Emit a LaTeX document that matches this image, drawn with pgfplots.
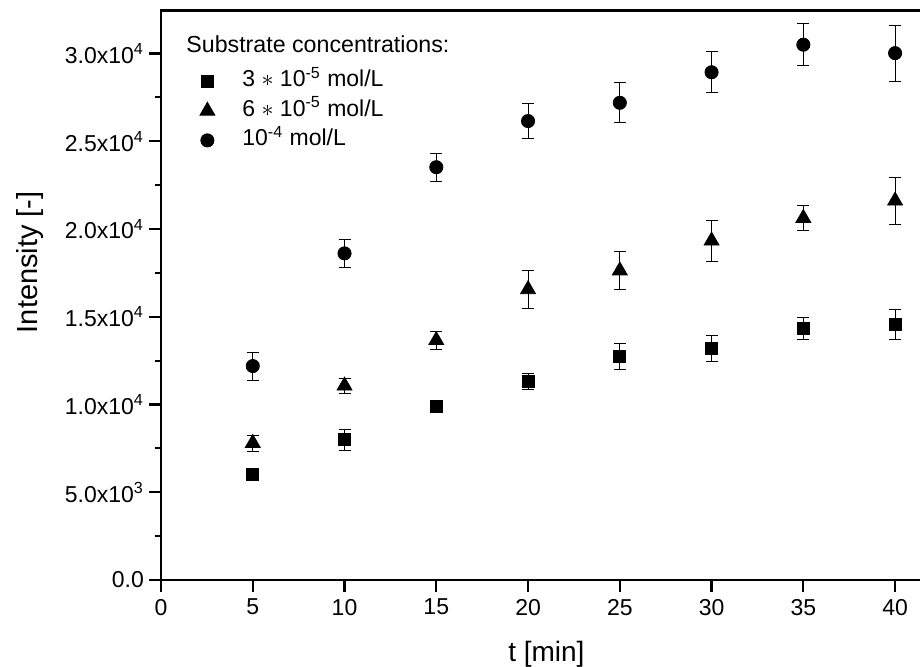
\documentclass[border=0pt]{standalone}
\usepackage{pgfplots}
\pgfplotsset{compat=1.18}
\usepackage{fontspec}
\setmainfont{Liberation Sans}
\pgfplotstableread{
x y e
5 6040 150
10 7990 600
15 9880 200
20 11300 470
25 12730 720
30 13180 740
35 14330 630
40 14540 860
}\sq
\pgfplotstableread{
x y e
5 7800 450
10 11070 430
15 13660 500
20 16560 1100
25 17630 1070
30 19330 1180
35 20620 700
40 21610 1350
}\tri
\pgfplotstableread{
x y e
5 12190 800
10 18610 800
15 23520 800
20 26150 1000
25 27190 1150
30 28930 1180
35 30500 1180
40 30020 1600
}\cir
\begin{document}
\begin{tikzpicture}
\begin{axis}[
  at={(0,0)}, anchor=south west,
  scale only axis, width=385.4pt, height=284.75pt,
  xmin=0, xmax=42, ymin=0, ymax=32450,
  axis line style={line width=1.1pt},
  every tick/.style={black, line width=1.1pt},
  tick align=outside,
  major tick length=6pt, minor tick length=3pt,
  xtick pos=left, ytick pos=left,
  xtick={0,5,...,40},
  ytick={0,5000,10000,15000,20000,25000,30000},
  minor y tick num=1,
  yticklabels={0.0, 5.0x10\textsuperscript{3}, 1.0x10\textsuperscript{4}, 1.5x10\textsuperscript{4}, 2.0x10\textsuperscript{4}, 2.5x10\textsuperscript{4}, 3.0x10\textsuperscript{4}},
  scaled y ticks=false,
  /pgf/number format/assume math mode=true,
  tick label style={font=\fontsize{11.5}{13}\selectfont},
  yticklabel style={xshift=1pt},
  xlabel={t [min]},
  ylabel={Intensity [-]},
  xlabel style={font=\fontsize{14}{16}\selectfont, yshift=-6pt},
  ylabel style={font=\fontsize{14.5}{17}\selectfont, at={(axis description cs:-0.17,0.558)}, anchor=center},
  legend style={draw=none, fill=none, at={(rel axis cs:0,1)}, anchor=north west, xshift=15pt, yshift=-27pt,
    font=\fontsize{11.5}{13}\selectfont, row sep=2.25pt,
    nodes={text height=8pt, text depth=2.5pt, inner ysep=1pt}},
  legend cell align=left,
  legend image code/.code={\draw[#1] plot coordinates {(0pt,0pt)}; \path[draw=none, fill=none] (-5pt,0pt) -- (15.5pt,0pt);},
  error bars/y dir=both, error bars/y explicit,
  error bars/error bar style={line width=0.5pt, black},
  error bars/error mark options={rotate=90, mark size=3pt, line width=0.5pt, black},
]
\addplot[only marks, mark=square*, mark size=3pt, black] table[x=x, y=y, y error=e] {\sq};
\addlegendentry{3 $\ast$ 10\textsuperscript{-5} mol/L}
\addplot[only marks, mark=triangle*, mark size=4.3pt, black] table[x=x, y=y, y error=e] {\tri};
\addlegendentry{6 $\ast$ 10\textsuperscript{-5} mol/L}
\addplot[only marks, mark=*, mark size=3.3pt, black] table[x=x, y=y, y error=e] {\cir};
\addlegendentry{10\textsuperscript{-4} mol/L}
\node[anchor=west, font=\fontsize{11.6}{13}\selectfont, inner sep=0pt] at (rel axis cs:0,1) [xshift=12.5pt, yshift=-17pt] {Substrate concentrations:};
\end{axis}
\pgfresetboundingbox
\path (-80.5pt,-43.5pt) rectangle (379.5pt,290pt);
\end{tikzpicture}
\end{document}
